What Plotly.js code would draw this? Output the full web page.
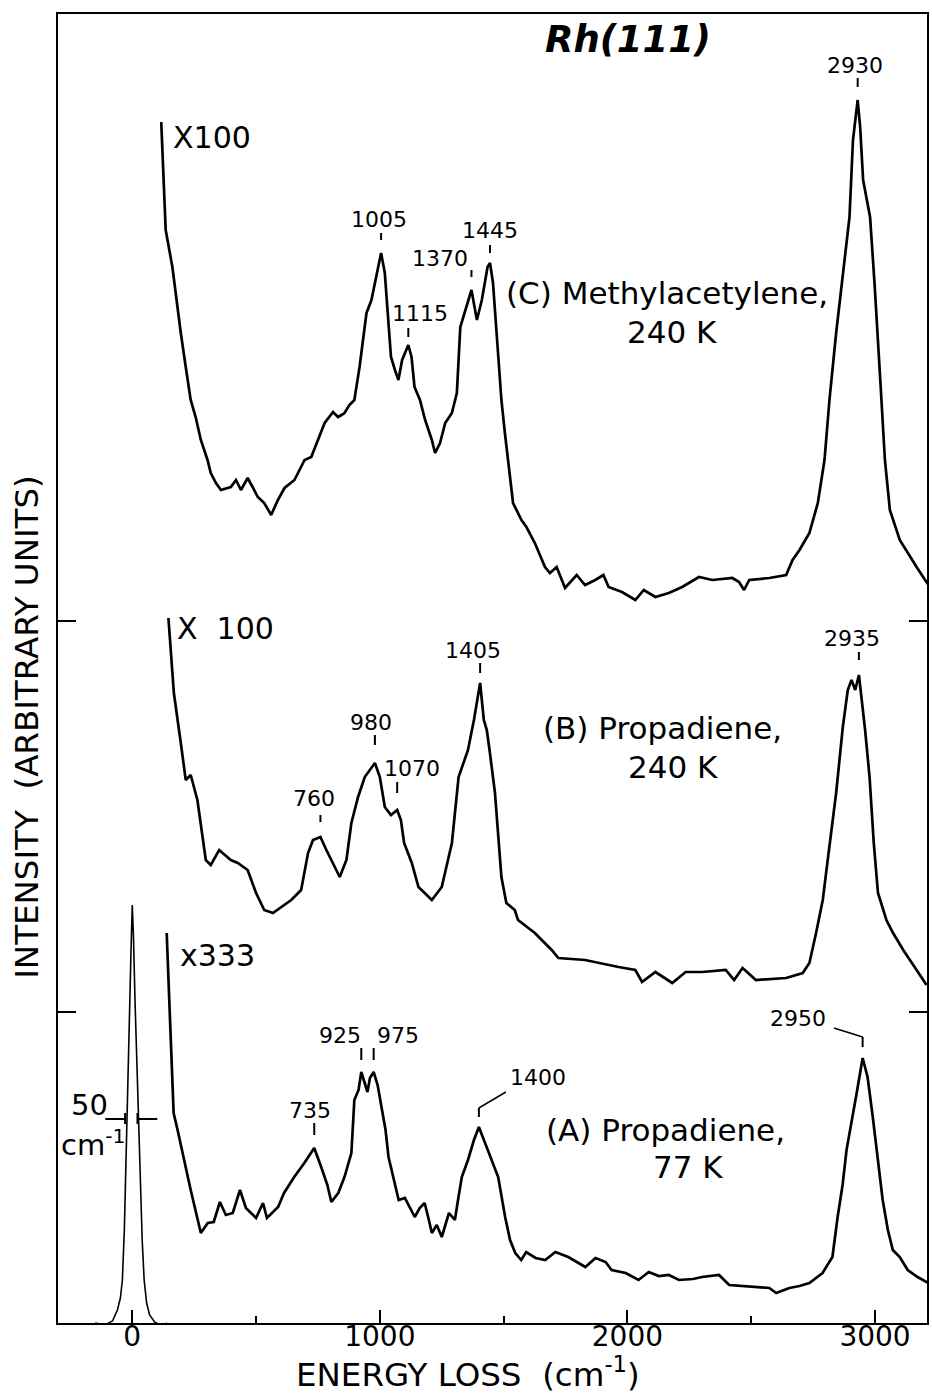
<!DOCTYPE html>
<html>
<head>
<meta charset="utf-8">
<script src="https://cdn.plot.ly/plotly-3.0.1.min.js"></script>
<style>
  html, body { margin: 0; padding: 0; background: #fff; }
  #chart { width: 932px; height: 1394px; }
</style>
</head>
<body>
<div id="chart"></div>
<script>
// Energy loss in cm^-1, intensity in arbitrary units (spectra stacked with offsets)

// Elastic (no-loss) peak
const elasticX = [-150, -110, -80, -60, -48, -40, -32, -25, -18, -11, -5, 0, 5, 11, 18, 25, 32, 40, 48, 58, 70, 90, 120, 140];
const elasticY = [0, -0.2, 0.2, 1.3, 2.5, 4.3, 9.3, 17.3, 24.3, 31.3, 37.3, 41.8, 38.5, 32.3, 26.3, 20.3, 14.3, 8.3, 4.3, 2.0, 0.8, 0.1, -0.3, 0];

// (A) Propadiene, 77 K  (x333)
const spectrumAX = [139, 145, 155, 167, 183, 208, 236, 277, 305, 329, 354, 378, 406, 435, 459, 500, 528, 544, 589, 613,
  654, 695, 735, 763, 788, 804, 832, 857, 885, 897, 914, 925, 950, 960, 975, 991, 1007, 1023, 1035, 1056,
  1076, 1101, 1121, 1141, 1161, 1181, 1198, 1210, 1230, 1250, 1279, 1303, 1319, 1331, 1356, 1380, 1400, 1429, 1453, 1478,
  1506, 1526, 1547, 1571, 1591, 1629, 1668, 1709, 1761, 1798, 1830, 1871, 1912, 1936, 1993, 2045, 2086, 2127, 2167, 2208,
  2265, 2301, 2370, 2411, 2459, 2504, 2573, 2601, 2654, 2695, 2735, 2788, 2828, 2849, 2869, 2885, 2905, 2926, 2950, 2970,
  2991, 3011, 3031, 3052, 3072, 3100, 3132, 3172, 3230];
const spectrumAY = [39.0, 34.8, 29.0, 21.0, 19.3, 16.3, 13.3, 9.0, 10.0, 10.1, 12.1, 10.8, 11.0, 13.3, 11.5, 10.5, 12.0, 10.5, 11.6, 13.0,
  14.6, 16.0, 17.5, 15.6, 13.8, 12.1, 13.0, 14.6, 17.0, 22.3, 23.3, 25.1, 23.1, 24.5, 25.1, 23.8, 21.6, 19.3, 16.6, 14.3,
  12.3, 12.5, 11.5, 10.6, 11.5, 12.0, 10.3, 9.0, 9.8, 8.6, 11.0, 10.3, 12.8, 14.6, 16.3, 18.3, 19.6, 17.8, 16.3, 14.6,
  10.6, 8.3, 7.0, 6.3, 7.1, 6.5, 6.3, 7.1, 6.6, 6.1, 5.6, 6.5, 6.1, 5.3, 5.0, 4.3, 5.1, 4.7, 4.8, 4.3,
  4.4, 4.6, 4.8, 3.8, 3.7, 3.6, 3.5, 3.0, 3.5, 3.7, 4.0, 5.0, 6.6, 10.6, 13.8, 17.3, 20.3, 23.0, 26.5, 24.6,
  20.6, 16.3, 12.3, 9.3, 7.3, 6.6, 5.3, 4.6, 3.8];

// (B) Propadiene, 240 K  (x100)
const spectrumBX = [146, 168, 196, 216, 236, 263, 297, 317, 351, 398, 426, 466, 500, 533, 568, 601, 642, 682, 710, 730,
  760, 784, 817, 838, 865, 885, 912, 939, 980, 1000, 1020, 1045, 1070, 1085, 1098, 1129, 1156, 1210, 1250, 1291,
  1318, 1356, 1380, 1405, 1420, 1432, 1443, 1465, 1491, 1511, 1545, 1558, 1626, 1694, 1721, 1829, 1964, 2032, 2059, 2113,
  2181, 2235, 2302, 2397, 2431, 2465, 2519, 2641, 2708, 2735, 2762, 2789, 2809, 2843, 2870, 2890, 2905, 2920, 2935, 2950,
  2960, 2978, 2995, 3012, 3046, 3073, 3114, 3168, 3208];
const spectrumBY = [70.5, 63.0, 58.0, 54.3, 54.8, 52.3, 46.3, 45.8, 47.3, 46.3, 46.0, 45.3, 43.0, 41.3, 41.0, 41.6, 42.3, 43.3, 47.0, 48.3,
  48.6, 47.3, 45.6, 44.6, 46.3, 50.0, 52.6, 54.6, 56.0, 54.6, 51.6, 50.8, 51.3, 50.3, 48.0, 46.0, 43.6, 42.3, 43.6, 48.0,
  54.6, 57.3, 60.3, 64.0, 60.3, 59.3, 57.3, 53.0, 44.6, 42.0, 41.3, 40.3, 39.0, 37.3, 36.5, 36.3, 35.6, 35.3, 34.1, 35.1,
  34.0, 35.1, 35.1, 35.3, 34.3, 35.5, 34.3, 34.5, 35.0, 36.0, 39.0, 42.3, 46.3, 53.0, 59.6, 63.3, 64.3, 63.3, 64.8, 61.8,
  59.3, 54.6, 48.0, 43.0, 40.3, 39.0, 37.3, 35.3, 33.8];

// (C) Methylacetylene, 240 K  (x100)
const spectrumCX = [117, 128, 135, 162, 182, 196, 216, 236, 256, 277, 304, 317, 338, 358, 398, 419, 439, 466, 486, 507,
  533, 561, 588, 615, 655, 696, 723, 750, 777, 811, 831, 845, 857, 877, 897, 918, 946, 966, 987, 1005,
  1020, 1032, 1045, 1061, 1075, 1090, 1115, 1128, 1140, 1162, 1183, 1210, 1223, 1243, 1264, 1291, 1311, 1325, 1345, 1370,
  1392, 1412, 1435, 1445, 1457, 1478, 1491, 1505, 1518, 1538, 1572, 1592, 1626, 1667, 1687, 1714, 1748, 1795, 1829, 1870,
  1903, 1924, 1978, 2032, 2066, 2113, 2167, 2221, 2289, 2343, 2424, 2451, 2471, 2492, 2573, 2641, 2667, 2695, 2735, 2769,
  2796, 2816, 2843, 2870, 2897, 2911, 2930, 2940, 2952, 2980, 2998, 3022, 3040, 3060, 3100, 3168, 3229];
const spectrumCY = [120.1, 113.6, 109.3, 105.6, 101.6, 99.0, 95.6, 92.3, 90.6, 88.3, 86.3, 85.0, 84.0, 83.3, 83.6, 84.3, 83.3, 84.5, 83.6, 82.6,
  82.0, 80.8, 82.3, 83.5, 84.3, 86.3, 86.6, 88.3, 90.0, 91.1, 90.6, 90.8, 91.0, 91.8, 92.3, 95.6, 101.0, 102.3, 105.0, 107.0,
  105.0, 100.6, 96.6, 95.3, 94.3, 96.3, 97.8, 96.6, 93.6, 92.3, 90.3, 88.3, 87.0, 88.0, 90.0, 91.0, 93.0, 99.6, 101.3, 103.3,
  100.3, 102.3, 105.6, 106.0, 104.0, 97.3, 92.3, 89.0, 86.3, 82.0, 80.3, 79.6, 78.0, 75.6, 75.0, 75.6, 73.5, 74.8, 73.8, 74.3,
  74.8, 73.6, 73.1, 72.3, 73.3, 72.6, 73.0, 73.6, 74.6, 74.3, 74.5, 74.1, 73.3, 74.3, 74.5, 74.8, 76.3, 77.3, 79.0, 82.0,
  86.3, 92.3, 99.0, 105.0, 110.6, 118.3, 122.3, 119.6, 114.3, 110.6, 104.0, 94.0, 86.3, 81.3, 78.3, 75.6, 73.3];

// Peak assignments (cm^-1) and where their numbers and tick marks sit
const peakValues   = [1005, 1115, 1370, 1445, 2930, 760, 980, 1070, 1405, 2935, 735, 925, 975, 1400, 2950];
const peakTextX    = [996, 1162, 1242, 1444, 2919, 733, 964, 1129, 1376, 2907, 717, 838, 1073, 1638, 2689];
const peakTextY    = [110.4, 101.0, 106.5, 109.3, 125.8, 52.5, 60.1, 55.5, 67.3, 68.5, 21.3, 28.8, 28.8, 24.6, 30.5];
const peakTickLow  = [108.3, 98.6, 104.6, 107.0, 123.6, 50.1, 57.8, 53.0, 65.0, 66.3, 18.8, 26.3, 26.3, 20.6, 27.6];
const peakTickHigh = [109.0, 99.5, 105.3, 107.8, 124.5, 50.8, 58.8, 54.1, 66.0, 67.1, 20.0, 27.5, 27.5, 21.5, 28.6];
// slanted leaders from a label to its tick mark: [peak, label-end x, label-end y]
const leaderPeaks = [1400, 2950];
const leaderEndX  = [1509, 2834];
const leaderEndY  = [23.1, 29.5];

// Curve names and gain factors
const curveNames = ['(C) Methylacetylene,', '240 K', '(B) Propadiene,', '240 K', '(A) Propadiene,', '77 K'];
const curveNameX = [2160, 2180, 2143, 2184, 2152, 2244];
const curveNameY = [103.0, 99.1, 59.5, 55.6, 19.3, 15.6];
const gainLabels = ['X100', 'X&nbsp;&nbsp;100', 'x333'];
const gainX = [156, 172, 184];
const gainY = [118.6, 69.5, 36.8];

// Resolution bar (full width at half maximum of the elastic peak)
const fwhmLeft = -29, fwhmRight = 21, fwhmLevel = 20.4, fwhmArm = 80;

const black = '#000';
const font = 'DejaVu Sans, Verdana, sans-serif';

function curve(x, y, w) {
  return { x: x, y: y, type: 'scatter', mode: 'lines', hoverinfo: 'skip',
           line: { color: black, width: w, shape: 'linear' } };
}

const traces = [
  curve(elasticX, elasticY, 1.6),
  curve(spectrumAX, spectrumAY, 2.7),
  curve(spectrumBX, spectrumBY, 2.7),
  curve(spectrumCX, spectrumCY, 2.7)
];

const annotations = [];
const shapes = [];

peakValues.forEach((v, i) => {
  annotations.push({ x: peakTextX[i], y: peakTextY[i], xref: 'x', yref: 'y', text: String(v),
    showarrow: false, xanchor: 'center', yanchor: 'middle', font: { family: font, size: 22, color: black } });
  shapes.push({ type: 'line', xref: 'x', yref: 'y', x0: v, x1: v, y0: peakTickLow[i], y1: peakTickHigh[i],
    line: { color: black, width: 2 } });
});
leaderPeaks.forEach((v, i) => {
  const top = peakTickHigh[peakValues.indexOf(v)];
  shapes.push({ type: 'line', xref: 'x', yref: 'y', x0: v, x1: leaderEndX[i], y0: top, y1: leaderEndY[i],
    line: { color: black, width: 1.5 } });
});

curveNames.forEach((t, i) => {
  annotations.push({ x: curveNameX[i], y: curveNameY[i], xref: 'x', yref: 'y', text: t, showarrow: false,
    xanchor: 'center', yanchor: 'middle', font: { family: font, size: 31, color: black } });
});
gainLabels.forEach((t, i) => {
  annotations.push({ x: gainX[i], y: gainY[i], xref: 'x', yref: 'y', text: t, showarrow: false,
    xanchor: 'left', yanchor: 'middle', font: { family: font, size: 30, color: black } });
});

// 50 cm-1 resolution marker
shapes.push(
  { type: 'line', xref: 'x', yref: 'y', x0: fwhmLeft - fwhmArm, x1: fwhmLeft, y0: fwhmLevel, y1: fwhmLevel, line: { color: black, width: 2 } },
  { type: 'line', xref: 'x', yref: 'y', x0: fwhmLeft, x1: fwhmLeft, y0: fwhmLevel - 0.5, y1: fwhmLevel + 0.6, line: { color: black, width: 2 } },
  { type: 'line', xref: 'x', yref: 'y', x0: fwhmRight, x1: fwhmRight + fwhmArm, y0: fwhmLevel, y1: fwhmLevel, line: { color: black, width: 2 } },
  { type: 'line', xref: 'x', yref: 'y', x0: fwhmRight, x1: fwhmRight, y0: fwhmLevel - 0.5, y1: fwhmLevel + 0.6, line: { color: black, width: 2 } }
);
annotations.push(
  { x: -171, y: 21.8, xref: 'x', yref: 'y', text: '50', showarrow: false, xanchor: 'center', yanchor: 'middle',
    font: { family: font, size: 29, color: black } },
  { x: -160, y: 18.0, xref: 'x', yref: 'y', text: 'cm<sup>-1</sup>', showarrow: false, xanchor: 'center', yanchor: 'middle',
    font: { family: font, size: 29, color: black } }
);

// Panel title and axis titles
annotations.push(
  { x: 2002, y: 128.4, xref: 'x', yref: 'y', text: '<b><i>Rh(111)</i></b>', showarrow: false,
    xanchor: 'center', yanchor: 'middle', font: { family: font, size: 37, color: black } },
  { x: 0.4716, y: -0.0375, xref: 'paper', yref: 'paper', text: 'ENERGY LOSS&nbsp; (cm<sup>-1</sup>)', showarrow: false,
    xanchor: 'center', yanchor: 'middle', font: { family: font, size: 32.5, color: black } },
  { x: -0.036, y: 0.4553, xref: 'paper', yref: 'paper', text: 'INTENSITY&nbsp; (ARBITRARY UNITS)', showarrow: false,
    textangle: -90, xanchor: 'center', yanchor: 'middle', font: { family: font, size: 32.5, color: black } }
);

const layout = {
  width: 932, height: 1394,
  margin: { l: 58, r: 5, t: 14, b: 71, pad: 0 },
  paper_bgcolor: '#fff', plot_bgcolor: '#fff',
  showlegend: false,
  font: { family: font, color: black },
  xaxis: {
    range: [-300, 3210], showgrid: false, zeroline: false,
    showline: true, mirror: true, linecolor: black, linewidth: 2,
    ticks: 'inside', ticklen: 13, tickwidth: 2, tickcolor: black,
    tickvals: [0, 1000, 2000, 3000], ticktext: ['0', '1000', '2000', '3000'],
    tickfont: { family: font, size: 28, color: black },
    ticklabelstandoff: -13,
    minor: { tick0: 0, dtick: 500, ticks: 'inside', ticklen: 7, tickwidth: 2, tickcolor: black, showgrid: false }
  },
  yaxis: {
    range: [0, 130.9], showgrid: false, zeroline: false,
    showline: true, mirror: 'ticks', linecolor: black, linewidth: 2,
    ticks: 'inside', ticklen: 18, tickwidth: 2, tickcolor: black,
    tickvals: [70.25, 31.15], showticklabels: false
  },
  annotations: annotations,
  shapes: shapes
};

Plotly.newPlot('chart', traces, layout, { displayModeBar: false, staticPlot: true });
</script>
</body>
</html>
